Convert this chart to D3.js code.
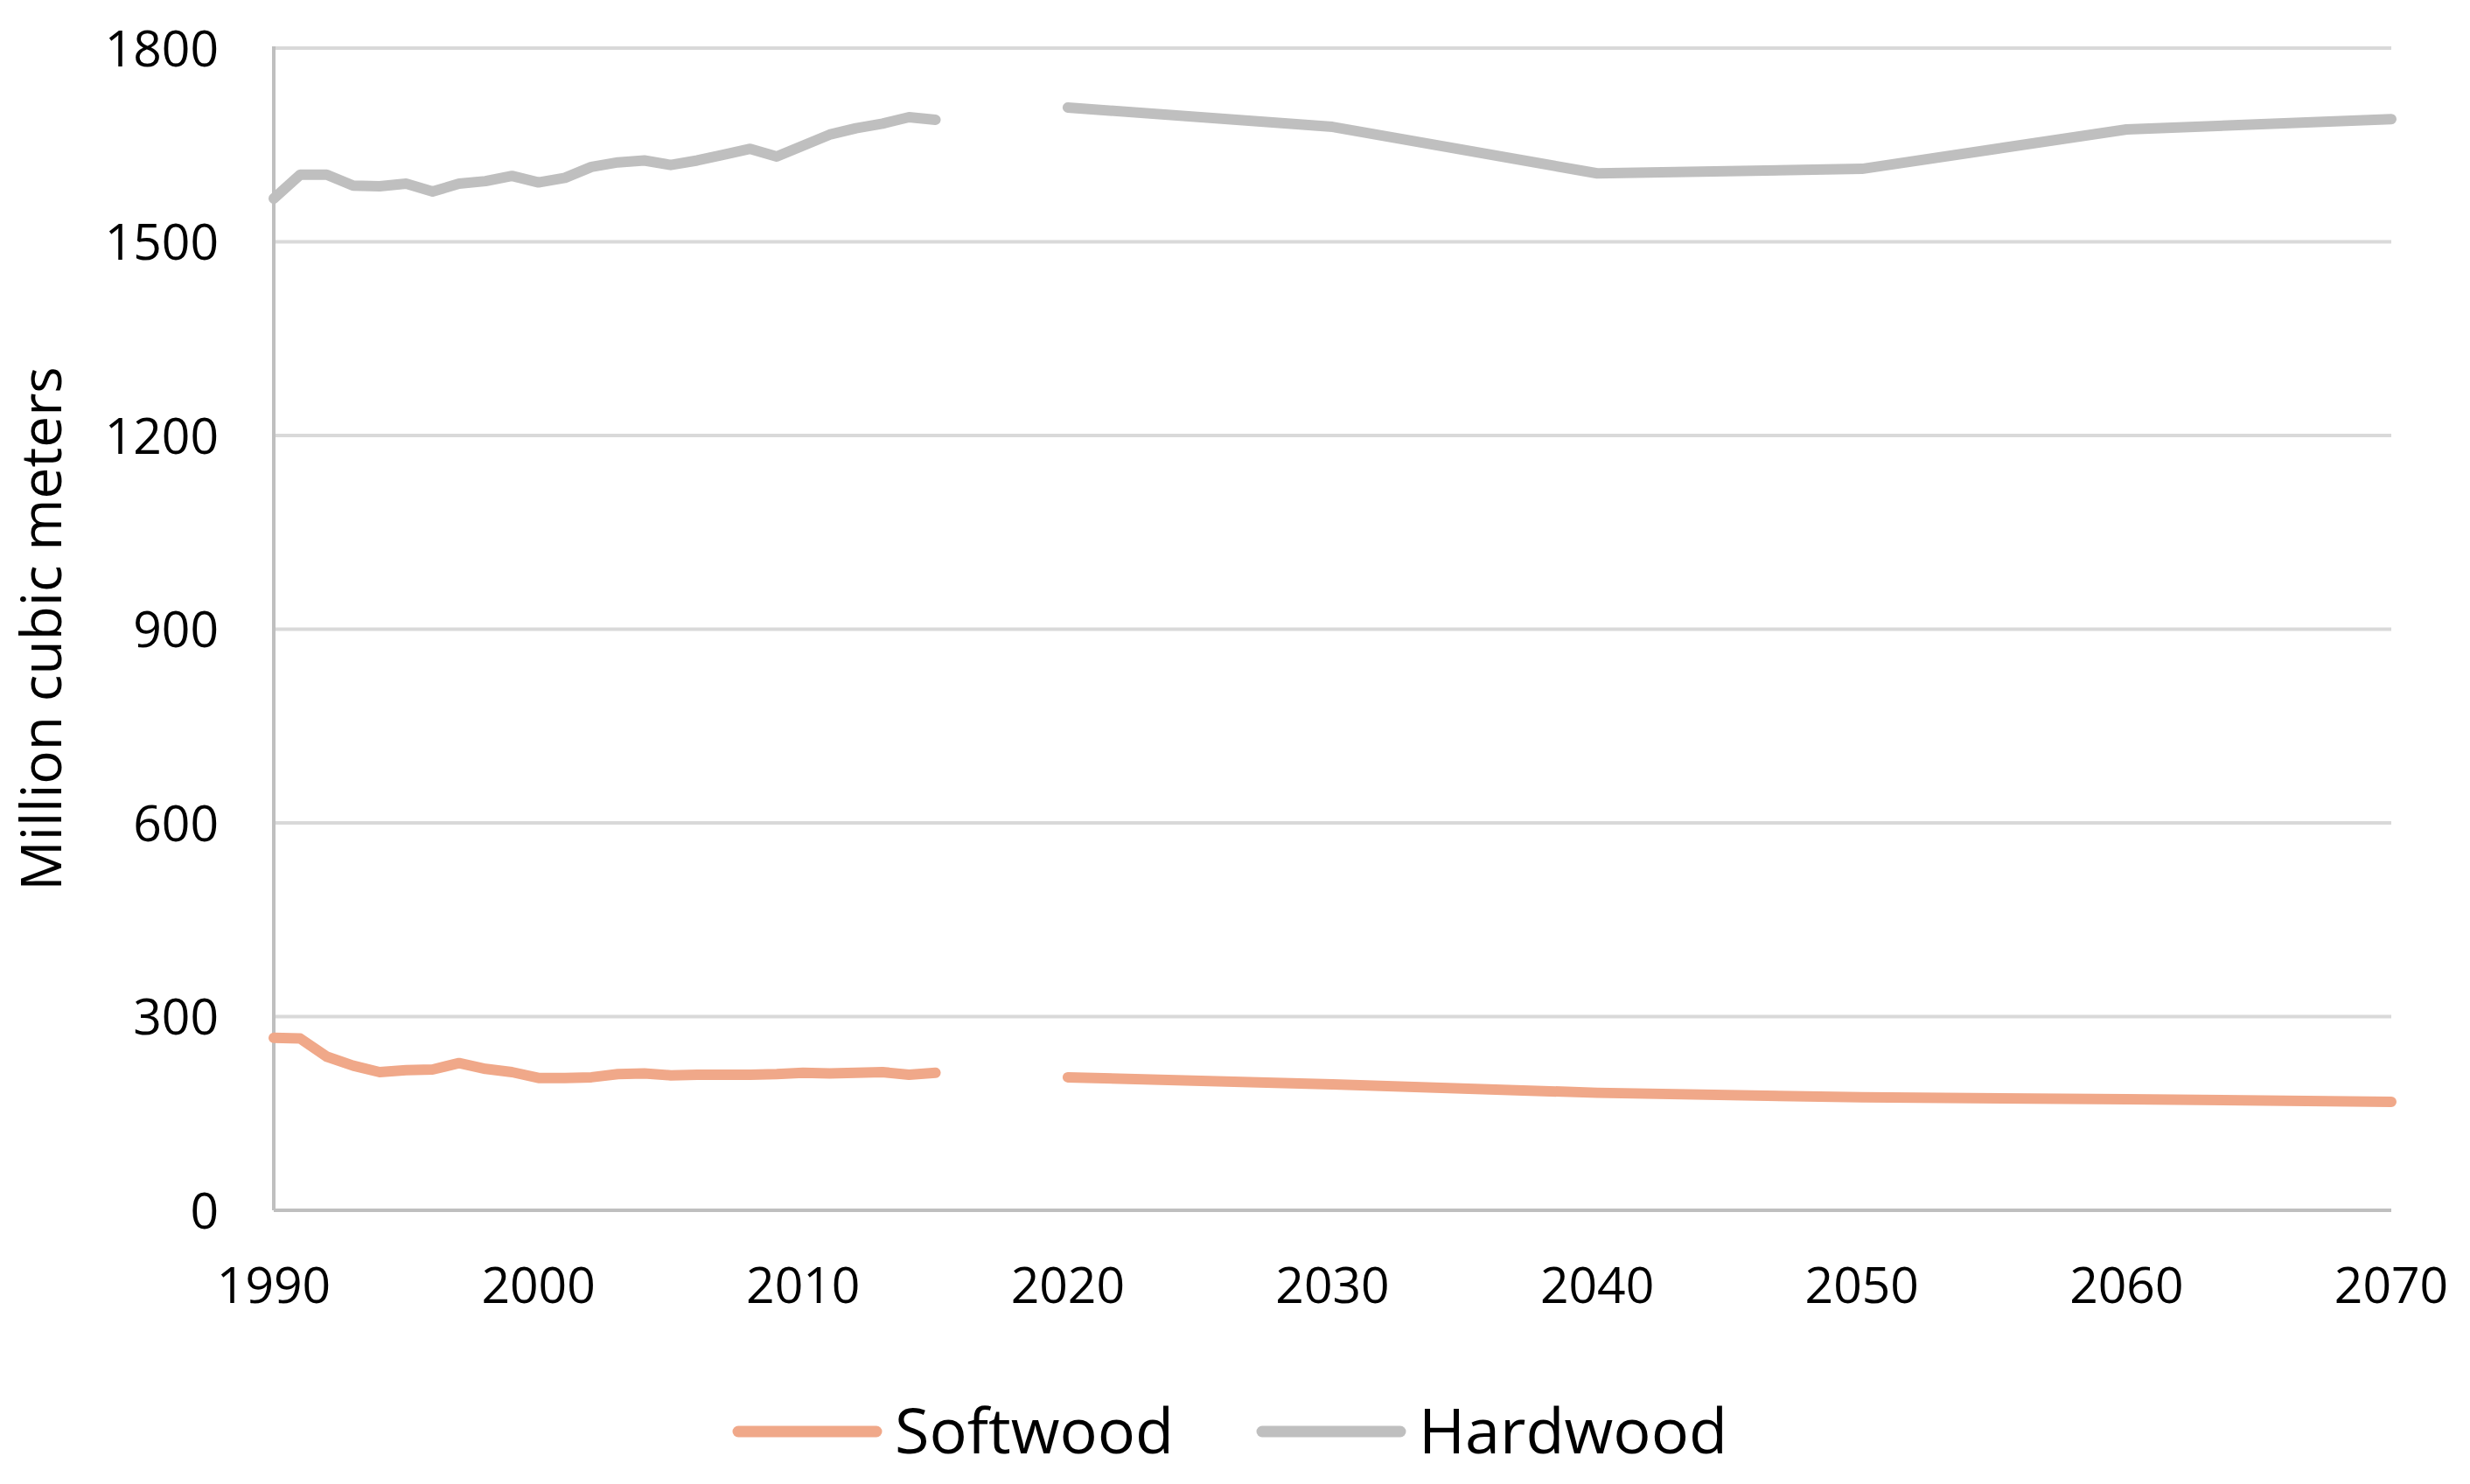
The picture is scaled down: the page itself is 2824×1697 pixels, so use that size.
<!DOCTYPE html>
<html>
<head>
<meta charset="utf-8">
<script src="https://cdn.jsdelivr.net/npm/d3@7"></script>
<style>
  body { margin: 0; background: #fff; }
  text { font-family: "Open Sans", sans-serif; fill: #000; }
</style>
</head>
<body>
<svg id="chart" width="2824" height="1697"></svg>
<script>
// historical data, yearly
const histYears = [1990, 1991, 1992, 1993, 1994, 1995, 1996, 1997, 1998, 1999, 2000, 2001, 2002,
    2003, 2004, 2005, 2006, 2007, 2008, 2009, 2010, 2011, 2012, 2013, 2014, 2015];
const softHist = [267, 266, 238, 224, 214, 217, 218, 228, 219, 214, 205, 205, 206,
    211, 212, 209, 210, 210, 210, 211, 213, 212, 213, 214, 210, 213];
const hardHist = [1567, 1604, 1604, 1587, 1586, 1590, 1578, 1590, 1594, 1602, 1592, 1599, 1616,
    1623, 1626, 1619, 1626, 1635, 1644, 1632, 1649, 1666, 1676, 1683, 1693, 1689];

// projections
const projYears = [2020, 2030, 2040, 2050, 2060, 2070];
const softProj = [206, 195, 182, 175, 172, 168];
const hardProj = [1708, 1678, 1606, 1613, 1674, 1690];

const xTicks = [1990, 2000, 2010, 2020, 2030, 2040, 2050, 2060, 2070];
const yTicks = [0, 300, 600, 900, 1200, 1500, 1800];

const seriesNames = ["Softwood", "Hardwood"];
const seriesColors = ["#f0a889", "#bfbfbf"];

const svg = d3.select("#chart");

const x = d3.scaleLinear().domain([1990, 2070]).range([313, 2734]);
const y = d3.scaleLinear().domain([0, 1800]).range([1384, 55]);

// gridlines
svg.append("g")
    .selectAll("line")
    .data(yTicks.filter(d => d > 0))
    .enter()
    .append("line")
    .attr("x1", x(1990))
    .attr("x2", x(2070))
    .attr("y1", d => y(d))
    .attr("y2", d => y(d))
    .attr("stroke", "#d9d9d9")
    .attr("stroke-width", 4);

// axis lines
svg.append("line")
    .attr("x1", x(1990)).attr("x2", x(1990))
    .attr("y1", y(1800) - 2).attr("y2", y(0))
    .attr("stroke", "#bfbfbf").attr("stroke-width", 4);
svg.append("line")
    .attr("x1", x(1990)).attr("x2", x(2070))
    .attr("y1", y(0)).attr("y2", y(0))
    .attr("stroke", "#bfbfbf").attr("stroke-width", 4);

// tick labels
svg.append("g")
    .selectAll("text")
    .data(yTicks)
    .enter()
    .append("text")
    .attr("x", 250)
    .attr("y", d => y(d))
    .attr("dy", "0.36em")
    .attr("text-anchor", "end")
    .attr("font-size", 57)
    .text(d => d);

svg.append("g")
    .selectAll("text")
    .data(xTicks)
    .enter()
    .append("text")
    .attr("x", d => x(d))
    .attr("y", 1490)
    .attr("text-anchor", "middle")
    .attr("font-size", 57)
    .text(d => d);

// y axis title
svg.append("text")
    .attr("transform", "translate(70,719) rotate(-90)")
    .attr("text-anchor", "middle")
    .attr("font-size", 64)
    .text("Million cubic meters");

// lines
const line = d3.line()
    .x(d => x(d[0]))
    .y(d => y(d[1]));

const segments = [
    { color: seriesColors[0], pts: d3.zip(histYears, softHist) },
    { color: seriesColors[0], pts: d3.zip(projYears, softProj) },
    { color: seriesColors[1], pts: d3.zip(histYears, hardHist) },
    { color: seriesColors[1], pts: d3.zip(projYears, hardProj) }
];

svg.append("g")
    .selectAll("path")
    .data(segments)
    .enter()
    .append("path")
    .attr("d", d => line(d.pts))
    .attr("fill", "none")
    .attr("stroke", d => d.color)
    .attr("stroke-width", 12)
    .attr("stroke-linejoin", "round")
    .attr("stroke-linecap", "round");

// legend
const legend = svg.append("g")
    .selectAll("g")
    .data(seriesNames)
    .enter()
    .append("g")
    .attr("transform", (d, i) => `translate(${i === 0 ? 844 : 1443},1637)`);

legend.append("line")
    .attr("x1", 0).attr("x2", 158)
    .attr("y1", 0).attr("y2", 0)
    .attr("stroke", (d, i) => seriesColors[i])
    .attr("stroke-width", 13)
    .attr("stroke-linecap", "round");

legend.append("text")
    .attr("x", 179)
    .attr("y", 25)
    .attr("font-size", 72)
    .text(d => d);
</script>
</body>
</html>
